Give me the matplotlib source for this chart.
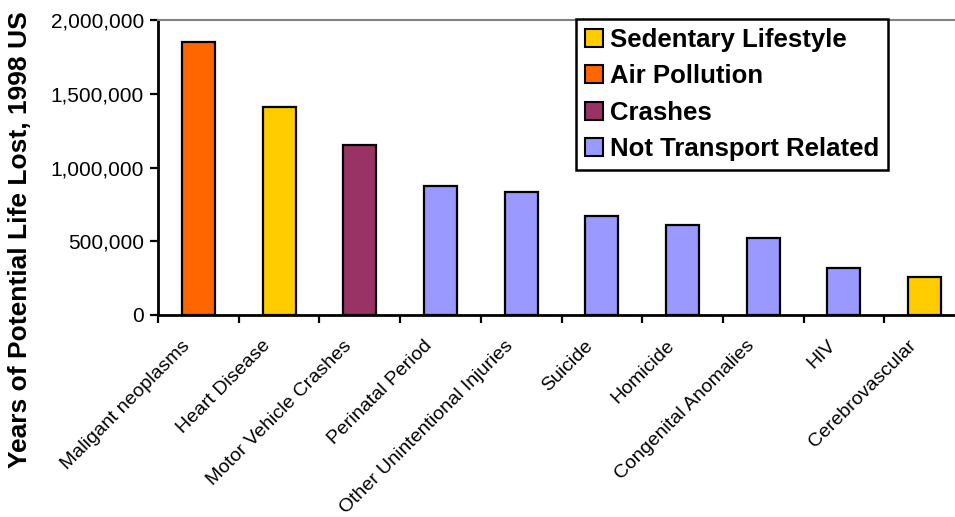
import matplotlib
matplotlib.use("Agg")
import matplotlib.pyplot as plt
import matplotlib.transforms as mtransforms
from matplotlib.patches import Patch
from matplotlib.ticker import FuncFormatter, FixedLocator, NullFormatter

plt.rcParams["font.family"] = ["Liberation Sans", "DejaVu Sans"]

# Years of potential life lost by cause, 1998 US
categories = [
    "Maligant neoplasms", "Heart Disease", "Motor Vehicle Crashes",
    "Perinatal Period", "Other Unintentional Injuries", "Suicide",
    "Homicide", "Congenital Anomalies", "HIV", "Cerebrovascular",
]
values = [1850000, 1410000, 1155000, 875000, 835000, 668000,
          610000, 524000, 321000, 258000]
groups = ["Air Pollution", "Sedentary Lifestyle", "Crashes",
          "Not Transport Related", "Not Transport Related",
          "Not Transport Related", "Not Transport Related",
          "Not Transport Related", "Not Transport Related",
          "Sedentary Lifestyle"]

legend_order = ["Sedentary Lifestyle", "Air Pollution", "Crashes",
                "Not Transport Related"]
group_colors = {
    "Sedentary Lifestyle": "#FFCC00",
    "Air Pollution": "#FF6600",
    "Crashes": "#993366",
    "Not Transport Related": "#9999FF",
}
y_ticks = [0, 500000, 1000000, 1500000, 2000000]

W, H = 955, 517
fig = plt.figure(figsize=(W / 100, H / 100), dpi=100)
ax = fig.add_axes([158 / W, 1 - 315 / H, (965 - 158) / W, (315 - 20) / H])

x = list(range(len(categories)))
ax.bar(x, values, width=0.41,
       color=[group_colors[g] for g in groups],
       edgecolor="black", linewidth=1.6, zorder=3)

ax.set_xlim(-0.5, len(categories) - 0.5)
ax.set_ylim(0, 2000000)

ax.set_yticks(y_ticks)
ax.yaxis.set_major_formatter(FuncFormatter(lambda v, p: f"{int(v):,}"))
ax.tick_params(axis="y", direction="out", length=6, width=1.6,
               labelsize=15, pad=4, colors="black")

# Category labels centred on bars, tick marks on category boundaries
ax.set_xticks(x)
ax.set_xticklabels(categories, rotation=45, ha="right", va="top",
                   fontsize=14)
ax.tick_params(axis="x", which="major", length=0, pad=16)
shift = mtransforms.ScaledTranslation(-5 / 100, 0, fig.dpi_scale_trans)
for lbl in ax.get_xticklabels():
    lbl.set_transform(lbl.get_transform() + shift)
ax.xaxis.set_minor_locator(FixedLocator([i - 0.5 for i in range(len(categories) + 1)]))
ax.xaxis.set_minor_formatter(NullFormatter())
ax.tick_params(axis="x", which="minor", direction="out", length=6, width=1.6)

for side in ["left", "bottom"]:
    ax.spines[side].set_linewidth(2)
    ax.spines[side].set_color("black")
ax.spines["top"].set_color("#808080")
ax.spines["top"].set_linewidth(1.5)
ax.spines["right"].set_visible(False)

fig.text(20 / W, 1 - 240 / H, "Years of Potential Life Lost, 1998 US",
         rotation=90, ha="center", va="center", fontsize=19,
         fontweight="bold")

handles = [Patch(facecolor=group_colors[g], edgecolor="black",
                 linewidth=1.5, label=g) for g in legend_order]
leg = fig.legend(handles=handles, loc="upper left",
                 bbox_to_anchor=(576 / W, 1 - 19 / H),
                 bbox_transform=fig.transFigure,
                 prop={"size": 18.5, "weight": "bold"},
                 frameon=True, fancybox=False, shadow=False,
                 handlelength=0.7, handleheight=0.7, handletextpad=0.28,
                 labelspacing=0.48, borderpad=0.35, borderaxespad=0)
leg.get_frame().set_edgecolor("black")
leg.get_frame().set_linewidth(1.8)
leg.get_frame().set_alpha(1)

fig.savefig("out.png", dpi=100, facecolor="white")
